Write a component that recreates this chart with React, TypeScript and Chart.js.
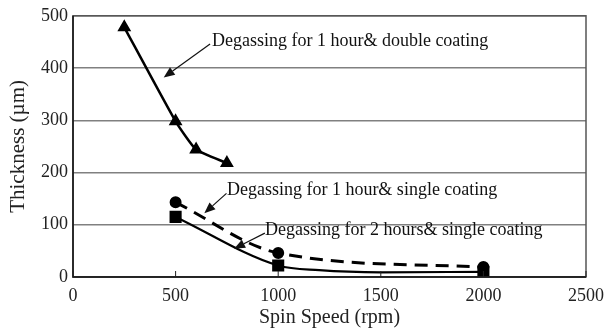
import React, { useEffect, useRef } from "react";
import { Chart, registerables } from "chart.js";

Chart.register(...registerables);

// Data
const doubleX = [250, 500, 600, 750];
const doubleY = [478, 298, 244, 218];

const single1hX = [500, 1000, 2000];
const single1hY = [143, 46, 19];

// squares line: marked points at 500, 1000, 2000, unmarked points along the curve
const single2hX = [500, 1000, 1200, 1500, 2000];
const single2hY = [115, 22, 13, 9, 10];
const single2hMarked = [true, true, false, false, true];

const xTicks = [0, 500, 1000, 1500, 2000, 2500];
const yTicks = [0, 100, 200, 300, 400, 500];

const labels = [
  "Degassing for 1 hour& double coating",
  "Degassing for 1 hour& single coating",
  "Degassing for 2 hours& single coating",
];

// annotation anchors (data coordinates): text start, arrow start, arrow tip
const noteText = [
  [677, 452],
  [750, 166],
  [936, 90],
];
const noteArrowFrom = [
  [668, 446],
  [748, 160],
  [935, 84],
];
const noteArrowTo = [
  [442, 382],
  [640, 122],
  [785, 54],
];

const FONT = "'Liberation Serif', 'Times New Roman', serif";

const framePlugin = {
  id: "frame",
  afterDraw(chart: any) {
    const { ctx, chartArea, scales } = chart;
    const xs = scales.x;
    const ys = scales.y;
    ctx.save();
    // frame
    ctx.strokeStyle = "#555";
    ctx.lineWidth = 1.5;
    ctx.strokeRect(chartArea.left, chartArea.top, chartArea.right - chartArea.left, chartArea.bottom - chartArea.top);
    ctx.strokeStyle = "#111";
    ctx.beginPath();
    ctx.moveTo(chartArea.left, chartArea.top);
    ctx.lineTo(chartArea.left, chartArea.bottom);
    ctx.lineTo(chartArea.right, chartArea.bottom);
    ctx.stroke();
    // inward tick marks on x axis
    ctx.lineWidth = 1;
    ctx.strokeStyle = "#222";
    xTicks.forEach((v) => {
      const px = xs.getPixelForValue(v);
      ctx.beginPath();
      ctx.moveTo(px, chartArea.bottom);
      ctx.lineTo(px, chartArea.bottom - 6);
      ctx.stroke();
    });
    // annotations
    ctx.fillStyle = "#111";
    ctx.strokeStyle = "#111";
    ctx.font = "18px " + FONT;
    ctx.textBaseline = "middle";
    ctx.textAlign = "left";
    labels.forEach((t, i) => {
      const tx = xs.getPixelForValue(noteText[i][0]);
      const ty = ys.getPixelForValue(noteText[i][1]);
      ctx.fillText(t, tx, ty);
      const x1 = xs.getPixelForValue(noteArrowFrom[i][0]);
      const y1 = ys.getPixelForValue(noteArrowFrom[i][1]);
      const x2 = xs.getPixelForValue(noteArrowTo[i][0]);
      const y2 = ys.getPixelForValue(noteArrowTo[i][1]);
      const ang = Math.atan2(y2 - y1, x2 - x1);
      const hl = 11;
      const hw = 4.5;
      const bx = x2 - hl * Math.cos(ang);
      const by = y2 - hl * Math.sin(ang);
      ctx.lineWidth = 1.2;
      ctx.beginPath();
      ctx.moveTo(x1, y1);
      ctx.lineTo(bx, by);
      ctx.stroke();
      ctx.beginPath();
      ctx.moveTo(x2, y2);
      ctx.lineTo(bx + hw * Math.sin(ang), by - hw * Math.cos(ang));
      ctx.lineTo(bx - hw * Math.sin(ang), by + hw * Math.cos(ang));
      ctx.closePath();
      ctx.fill();
    });
    ctx.restore();
  },
};

export default function App() {
  const ref = useRef<HTMLCanvasElement | null>(null);
  useEffect(() => {
    document.body.style.margin = "0";
    const canvas = ref.current;
    if (!canvas) return;
    const toPts = (xs: number[], ys: number[]) => xs.map((x, i) => ({ x, y: ys[i] }));
    const chart = new Chart(canvas, {
      type: "scatter",
      data: {
        datasets: [
          {
            label: labels[0],
            data: toPts(doubleX, doubleY),
            showLine: true,
            borderColor: "#000",
            backgroundColor: "#000",
            borderWidth: 2.5,
            pointStyle: "triangle",
            pointRadius: 5.5,
            tension: 0.15,
          },
          {
            label: labels[1],
            data: toPts(single1hX, single1hY),
            showLine: true,
            borderColor: "#000",
            backgroundColor: "#000",
            borderWidth: 3,
            borderDash: [13, 8],
            pointStyle: "circle",
            pointRadius: 4.5,
            cubicInterpolationMode: "monotone",
          },
          {
            label: labels[2],
            data: toPts(single2hX, single2hY),
            showLine: true,
            borderColor: "#000",
            backgroundColor: "#000",
            borderWidth: 2.2,
            pointStyle: "rect",
            pointRadius: single2hMarked.map((m) => (m ? 7 : 0)),
            cubicInterpolationMode: "monotone",
          },
        ],
      },
      options: {
        animation: false,
        responsive: false,
        maintainAspectRatio: false,
        layout: { padding: { top: 15, right: 28, left: 0, bottom: 0 } },
        plugins: { legend: { display: false }, tooltip: { enabled: false } },
        scales: {
          x: {
            type: "linear",
            min: 0,
            max: 2500,
            afterBuildTicks: (s: any) => {
              s.ticks = xTicks.map((v) => ({ value: v }));
            },
            afterFit: (s: any) => {
              s.height = 53;
            },
            grid: { display: false, drawTicks: false },
            border: { display: false },
            ticks: {
              padding: 8,
              color: "#222",
              font: { family: FONT, size: 18 },
              callback: (v: any) => String(v),
            },
            title: {
              display: true,
              text: "Spin Speed (rpm)",
              color: "#222",
              font: { family: FONT, size: 20 },
              padding: { top: 0, bottom: 0 },
            },
          },
          y: {
            type: "linear",
            min: 0,
            max: 500,
            afterBuildTicks: (s: any) => {
              s.ticks = yTicks.map((v) => ({ value: v }));
            },
            afterFit: (s: any) => {
              s.width = 73;
            },
            grid: { color: "#808080", lineWidth: 1.5, drawTicks: false },
            border: { display: false },
            ticks: {
              padding: 5,
              color: "#222",
              font: { family: FONT, size: 18 },
              callback: (v: any) => String(v),
            },
            title: {
              display: true,
              text: "Thickness (µm)",
              color: "#222",
              font: { family: FONT, size: 21 },
              padding: { top: 6, bottom: 0 },
            },
          },
        },
      },
      plugins: [framePlugin],
    } as any);
    return () => chart.destroy();
  }, []);
  return <canvas ref={ref} width={614} height={330} style={{ display: "block", width: 614, height: 330 }} />;
}
